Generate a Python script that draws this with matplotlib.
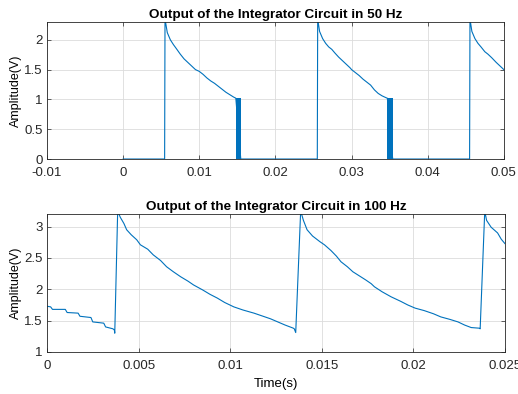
import matplotlib
matplotlib.use("Agg")
import matplotlib.pyplot as plt

plt.rcParams['font.family'] = ['Liberation Sans', 'DejaVu Sans']

# --- 50 Hz: salida del integrador ---
t50 = [0.0, 0.00545, 0.00550, 0.0058, 0.0062, 0.0066, 0.0070, 0.0075, 0.0080,
       0.0085, 0.0090, 0.0095, 0.0100, 0.0105, 0.0110, 0.0115, 0.0120, 0.0125,
       0.0130, 0.0135, 0.0140, 0.0145, 0.0148, 0.01545,
       0.0255, 0.02555, 0.0258, 0.0262, 0.0266, 0.0270, 0.0274, 0.0278, 0.0283,
       0.0288, 0.0293, 0.0298, 0.0300, 0.0305, 0.0310, 0.0315, 0.0320, 0.0325,
       0.0330, 0.0335, 0.0340, 0.0345, 0.0347, 0.0354,
       0.04550, 0.04555, 0.0458, 0.0462, 0.0466, 0.0470, 0.0475, 0.0479, 0.0484,
       0.0490, 0.0495, 0.0500]
v50 = [0.0, 0.0, 2.35, 2.12, 2.00, 1.92, 1.85, 1.76, 1.68,
       1.62, 1.56, 1.50, 1.47, 1.42, 1.36, 1.31, 1.27, 1.22,
       1.17, 1.12, 1.08, 1.04, 1.02, 0.0,
       0.0, 2.35, 2.14, 2.02, 1.94, 1.88, 1.84, 1.78, 1.71,
       1.65, 1.59, 1.53, 1.50, 1.45, 1.40, 1.34, 1.29, 1.24,
       1.16, 1.10, 1.06, 1.03, 1.02, 0.0,
       0.0, 2.35, 2.14, 2.02, 1.94, 1.88, 1.80, 1.76, 1.70,
       1.62, 1.56, 1.50]
# zonas de conmutacion (bandas gruesas)
band_start = [0.0148, 0.0347]
band_end = [0.01545, 0.0354]
band_top = [1.02, 1.02]

# --- 100 Hz ---
t100 = [0.0, 0.0002, 0.0003, 0.0010, 0.0011, 0.0017, 0.0018, 0.0024, 0.0025,
        0.0031, 0.0032, 0.0036, 0.00368, 0.0037, 0.00386, 0.0040, 0.0042,
        0.00435, 0.0046, 0.0049, 0.0051, 0.0055, 0.0058, 0.0062, 0.00653,
        0.0069, 0.0073, 0.0077, 0.0080, 0.0085, 0.0089, 0.0093, 0.0097, 0.0102,
        0.0107, 0.0113, 0.0117, 0.0122, 0.0126, 0.0130, 0.01345, 0.0135,
        0.01358, 0.01385, 0.0140, 0.0142, 0.0145, 0.0149, 0.01515, 0.0155,
        0.0158, 0.01605, 0.0164, 0.0167, 0.01697, 0.0174, 0.0177, 0.01788,
        0.0183, 0.01879, 0.0193, 0.0197, 0.0201, 0.0206, 0.0211, 0.0215,
        0.0220, 0.02244, 0.0228, 0.02316, 0.0236, 0.02365, 0.0239, 0.0240,
        0.02425, 0.0246, 0.0248, 0.0250]
v100 = [1.73, 1.72, 1.68, 1.68, 1.63, 1.62, 1.57, 1.55, 1.48,
        1.46, 1.40, 1.37, 1.35, 1.30, 3.25, 3.15, 3.05,
        2.95, 2.87, 2.79, 2.71, 2.64, 2.55, 2.46, 2.36,
        2.28, 2.20, 2.13, 2.07, 1.99, 1.92, 1.86, 1.79, 1.72,
        1.67, 1.62, 1.58, 1.53, 1.48, 1.43, 1.38, 1.37,
        1.31, 3.25, 3.10, 2.95, 2.85, 2.76, 2.71, 2.62,
        2.53, 2.44, 2.36, 2.28, 2.23, 2.15, 2.09, 2.04,
        1.96, 1.88, 1.81, 1.75, 1.70, 1.66, 1.61, 1.56,
        1.52, 1.48, 1.43, 1.39, 1.38, 1.37, 3.25, 3.10,
        2.99, 2.90, 2.80, 2.73]

color = '#0072BD'

fig = plt.figure(figsize=(5.18, 3.94), dpi=100)
ax1 = fig.add_axes([0.0907, 0.5964, 0.882, 0.348])
ax2 = fig.add_axes([0.0907, 0.1066, 0.884, 0.350])

ax1.plot(t50, v50, color=color, lw=0.8)
for b0, b1, h in zip(band_start, band_end, band_top):
    ax1.fill_between([b0, b1], 0, h, color=color, lw=0)
ax1.set_xlim(-0.01, 0.05)
ax1.set_ylim(0, 2.3)
ax1.set_xticks([-0.01, 0, 0.01, 0.02, 0.03, 0.04, 0.05])
ax1.set_xticklabels(['-0.01', '0', '0.01', '0.02', '0.03', '0.04', '0.05'])
ax1.set_yticks([0, 0.5, 1, 1.5, 2])
ax1.set_yticklabels(['0', '0.5', '1', '1.5', '2'])
ax1.set_title('Output of the Integrator Circuit in 50 Hz', fontsize=9.7,
              fontweight='bold', pad=3)
ax1.set_ylabel('Amplitude(V)', fontsize=9, labelpad=2)

ax2.plot(t100, v100, color=color, lw=0.8)
ax2.set_xlim(0, 0.025)
ax2.set_ylim(1, 3.2)
ax2.set_xticks([0, 0.005, 0.01, 0.015, 0.02, 0.025])
ax2.set_xticklabels(['0', '0.005', '0.01', '0.015', '0.02', '0.025'])
ax2.set_yticks([1, 1.5, 2, 2.5, 3])
ax2.set_yticklabels(['1', '1.5', '2', '2.5', '3'])
ax2.set_title('Output of the Integrator Circuit in 100 Hz', fontsize=9.7,
              fontweight='bold', pad=3)
ax2.set_ylabel('Amplitude(V)', fontsize=9, labelpad=2)
ax2.set_xlabel('Time(s)', fontsize=9.5, labelpad=4)

for ax in (ax1, ax2):
    ax.grid(True, color='#dcdcdc', lw=0.6)
    ax.set_axisbelow(True)
    ax.tick_params(direction='in', top=True, right=True, length=3,
                   width=0.5, labelsize=9.5, colors='#262626')
    ax.tick_params(axis='x', pad=6)
    ax.tick_params(axis='y', pad=3)
    for s in ax.spines.values():
        s.set_color('#262626')
        s.set_linewidth(0.6)

fig.savefig('out.png', dpi=100)
